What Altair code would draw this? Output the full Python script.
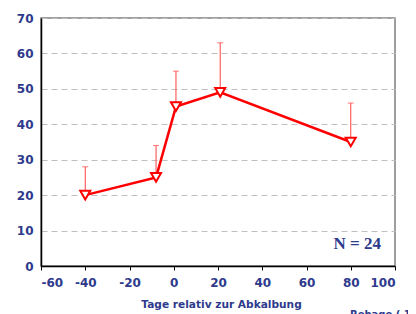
import altair as alt
import pandas as pd

days = [-40, -8, 1, 21, 80]
means = [20, 25, 45, 49, 35]
uppers = [28, 34, 55, 63, 46]

x_ticks = [-60, -40, -20, 0, 20, 40, 60, 80, 100]
y_ticks = [0, 10, 20, 30, 40, 50, 60, 70]

df = pd.DataFrame({"day": days, "mean": means, "upper": uppers})

BLUE = "#2E3A8C"
FONT = "DejaVu Sans"

xs = alt.Scale(domain=[-60, 100], nice=False)
ys = alt.Scale(domain=[0, 70], nice=False)

x_axis = alt.Axis(values=x_ticks, title="Tage relativ zur Abkalbung", grid=False,
                  labelExpr="datum.value + ''", labelOverlap=False,
                  labelColor=BLUE, labelFont=FONT, labelFontWeight="bold", labelFontSize=12,
                  titleColor=BLUE, titleFont=FONT, titleFontWeight="bold", titleFontSize=10.6,
                  titlePadding=11, titleX=180, domainColor="black", domainWidth=1.5,
                  tickColor="black", tickSize=4, labelPadding=7)
y_axis = alt.Axis(values=y_ticks, title=None, grid=True, gridDash=[6, 4], gridColor="#BFBFBF",
                  gridWidth=1.2, labelOverlap=False, labelExpr="datum.value + ''",
                  labelColor=BLUE, labelFont=FONT, labelFontWeight="bold",
                  labelFontSize=12, domainColor="black", domainWidth=1.5, tickSize=0, labelPadding=8)

X = alt.X("day:Q", scale=xs, axis=x_axis)
Ymean = alt.Y("mean:Q", scale=ys, axis=y_axis)
Yup = alt.Y("upper:Q", scale=ys, axis=y_axis)

base = alt.Chart(df)

err = base.mark_rule(color="#FF4040", strokeWidth=1).encode(x=X, y=Ymean, y2="upper:Q")
caps = base.mark_tick(color="#FF4040", thickness=1, size=6, orient="horizontal").encode(x=X, y=Yup)
line = base.mark_line(color="#FF0000", strokeWidth=2.5).encode(x=X, y=Ymean)
pts = base.mark_point(shape="triangle-down", filled=True, fill="white", stroke="#FF0000",
                      strokeWidth=2, size=100, opacity=1).encode(x=X, y=Ymean)
ntext = alt.Chart(pd.DataFrame({"t": ["N = 24"]})).mark_text(
    font="Liberation Serif", fontWeight="bold", fontSize=17, color=BLUE, align="right",
    baseline="middle").encode(x=alt.value(340), y=alt.value(226), text="t:N")
src = alt.Chart(pd.DataFrame({"t": ["Rehage ( 1996 )"]})).mark_text(
    font=FONT, fontWeight="bold", fontSize=10, color=BLUE, align="left",
    baseline="top").encode(x=alt.value(309), y=alt.value(292), text="t:N")

chart = alt.layer(err, caps, line, pts, ntext, src).properties(
    width=354, height=248,
    autosize=alt.AutoSizeParams(type="none"),
    padding={"left": 33, "top": 10, "right": 13, "bottom": 50},
).configure_view(stroke="#7F7F7F", strokeWidth=1.5)

chart.save("out.html", embed_options={"renderer": "svg", "actions": False})
